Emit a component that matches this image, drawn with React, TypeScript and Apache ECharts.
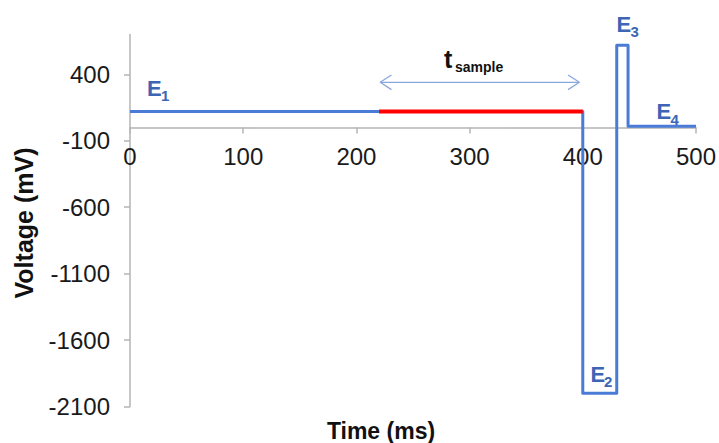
import React, { useEffect, useRef } from "react";
import * as echarts from "echarts";

// Waveform (time in ms, potential in mV)
const timePoints = [0, 400, 400, 430, 430, 440, 440, 500];
const voltagePoints = [120, 120, -2000, -2000, 620, 620, 10, 10];
// Sampling window (red)
const sampleTimes = [220, 400];
const sampleVoltage = 120;
// Double arrow for t_sample
const arrowTimes = [221, 397];
const arrowVoltage = 340;
// Axis ticks
const yTicks = [-2100, -1600, -1100, -600, -100, 400];
const xTicks = [0, 100, 200, 300, 400, 500];
const yMin = -2100;
const yMax = 700;

const BLUE = "#4A7BD6";
const LABEL_BLUE = "#3D65B4";
const ARROW_BLUE = "#8AA8DE";
const AXIS_GRAY = "#B4B4B4";
const FONT = "'Liberation Sans', Arial, sans-serif";

const GRID_TOP = 34.5;
const GRID_BOTTOM = 36.5;
const H = 443;

export default function App() {
  const ref = useRef<HTMLDivElement>(null);
  useEffect(() => {
    if (!ref.current) return;
    const chart = echarts.init(ref.current, undefined, { renderer: "svg" });
    const wave = timePoints.map((t, i) => [t, voltagePoints[i]]);
    const red = sampleTimes.map((t) => [t, sampleVoltage]);
    const headDx = 10; // ms
    const headDy = 55; // mV
    const arrowMain = arrowTimes.map((t) => [t, arrowVoltage]);
    const headL = [
      [arrowTimes[0] + headDx, arrowVoltage + headDy],
      [arrowTimes[0], arrowVoltage],
      [arrowTimes[0] + headDx, arrowVoltage - headDy],
    ];
    const headR = [
      [arrowTimes[1] - headDx, arrowVoltage + headDy],
      [arrowTimes[1], arrowVoltage],
      [arrowTimes[1] - headDx, arrowVoltage - headDy],
    ];
    const gridH = H - GRID_TOP - GRID_BOTTOM;
    const zeroOffset = -((0 - yMin) / (yMax - yMin)) * gridH;
    const lbl = (
      x: number,
      y: number,
      main: string,
      sub: string,
      sx: number,
      sy: number
    ) => [
      {
        type: "text",
        x,
        y,
        style: {
          text: main,
          font: `bold 22px ${FONT}`,
          fill: LABEL_BLUE,
          align: "left",
          verticalAlign: "middle",
        },
      },
      {
        type: "text",
        x: sx,
        y: sy,
        style: {
          text: sub,
          font: `bold 15px ${FONT}`,
          fill: LABEL_BLUE,
          align: "left",
          verticalAlign: "middle",
        },
      },
    ];
    chart.setOption({
      animation: false,
      grid: { left: 130, right: 22, top: GRID_TOP, bottom: GRID_BOTTOM, containLabel: false },
      xAxis: {
        type: "value",
        min: 0,
        max: 500,
        interval: 100,
        offset: zeroOffset,
        axisLine: { onZero: false, lineStyle: { color: AXIS_GRAY, width: 1.5 } },
        axisTick: { show: true, length: 6, lineStyle: { color: AXIS_GRAY, width: 1.5 } },
        axisLabel: {
          margin: 17,
          fontSize: 24,
          fontFamily: FONT,
          color: "#1a1a1a",
          customValues: xTicks,
          formatter: (v: number) => String(v),
        },
        splitLine: { show: false },
      },
      yAxis: {
        type: "value",
        min: yMin,
        max: yMax,
        axisLine: { show: true, lineStyle: { color: AXIS_GRAY, width: 1.5 } },
        axisTick: {
          show: true,
          length: 6,
          lineStyle: { color: AXIS_GRAY, width: 1.5 },
          customValues: yTicks,
        },
        axisLabel: {
          margin: 20,
          fontSize: 24,
          fontFamily: FONT,
          color: "#1a1a1a",
          customValues: yTicks,
          formatter: (v: number) => String(v),
        },
        splitLine: { show: false },
      },
      series: [
        {
          type: "line",
          data: wave,
          showSymbol: false,
          lineStyle: { color: BLUE, width: 3, join: "round" },
          silent: true,
          z: 2,
        },
        {
          type: "line",
          data: red,
          showSymbol: false,
          lineStyle: { color: "#FF0000", width: 4 },
          silent: true,
          z: 3,
        },
        {
          type: "line",
          data: arrowMain,
          showSymbol: false,
          lineStyle: { color: ARROW_BLUE, width: 1.3 },
          silent: true,
        },
        {
          type: "line",
          data: headL,
          showSymbol: false,
          lineStyle: { color: ARROW_BLUE, width: 1.3 },
          silent: true,
        },
        {
          type: "line",
          data: headR,
          showSymbol: false,
          lineStyle: { color: ARROW_BLUE, width: 1.3 },
          silent: true,
        },
      ],
      graphic: [
        ...lbl(147, 88.5, "E", "1", 161, 95),
        ...lbl(590.5, 374, "E", "2", 604, 381.5),
        ...lbl(616.5, 24, "E", "3", 630.5, 31.5),
        ...lbl(656.5, 111, "E", "4", 670.5, 119),
        {
          type: "text",
          x: 444,
          y: 59.3,
          style: {
            text: "t",
            font: `bold 25px ${FONT}`,
            fill: "#111",
            align: "left",
            verticalAlign: "middle",
          },
        },
        {
          type: "text",
          x: 455,
          y: 67,
          style: {
            text: "sample",
            font: `bold 14px ${FONT}`,
            fill: "#111",
            align: "left",
            verticalAlign: "middle",
          },
        },
        {
          type: "text",
          x: 24,
          y: 223,
          rotation: Math.PI / 2,
          style: {
            text: "Voltage (mV)",
            font: `bold 25px ${FONT}`,
            fill: "#111",
            align: "center",
            verticalAlign: "middle",
          },
        },
        {
          type: "text",
          x: 381,
          y: 431,
          style: {
            text: "Time (ms)",
            font: `bold 23px ${FONT}`,
            fill: "#111",
            align: "center",
            verticalAlign: "middle",
          },
        },
      ],
    });
    return () => chart.dispose();
  }, []);
  return (
    <div
      ref={ref}
      style={{ position: "fixed", left: 0, top: 0, width: 719, height: 443, background: "#fff" }}
    />
  );
}
